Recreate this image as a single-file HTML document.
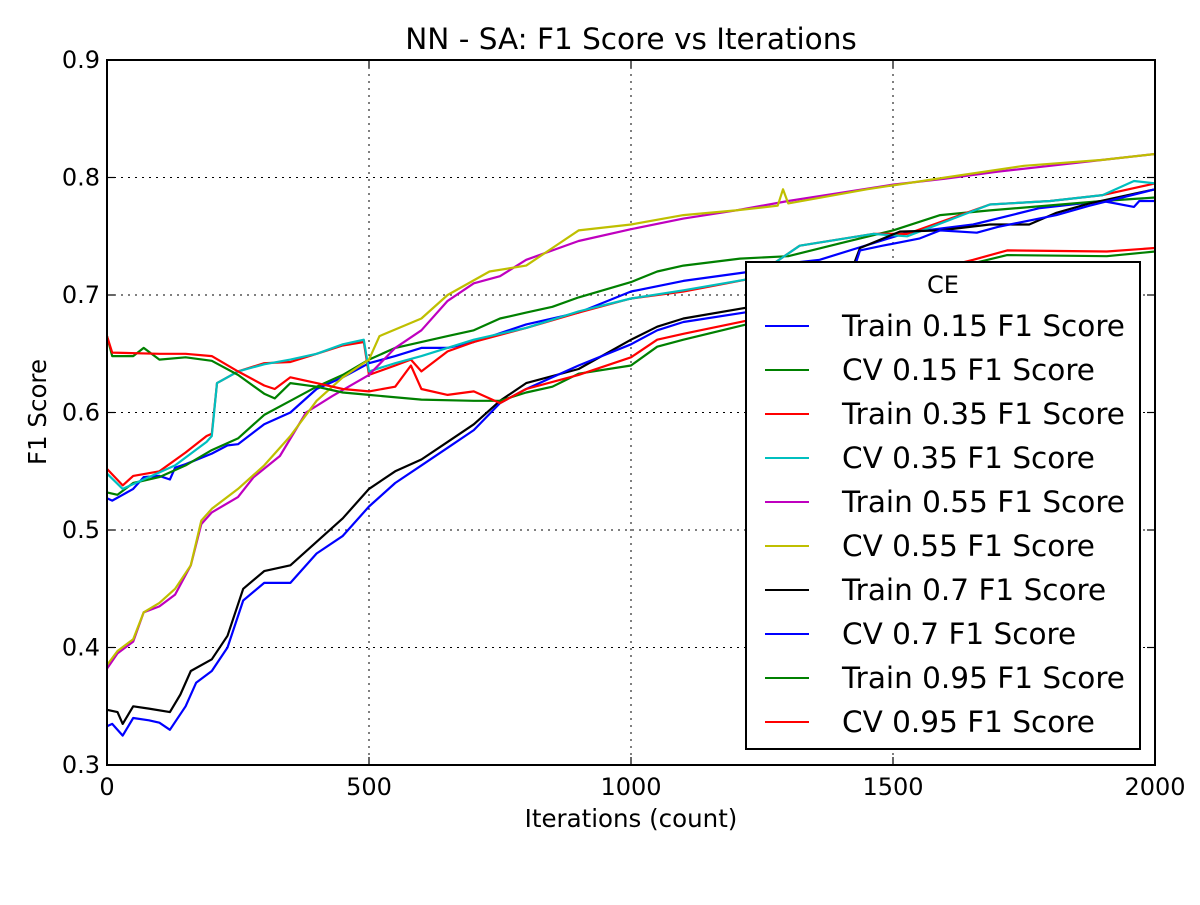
<!DOCTYPE html>
<html><head><meta charset="utf-8"><style>
body{margin:0;background:#fff;}
svg text{font-family:"DejaVu Sans","Liberation Sans",sans-serif;fill:#000;}
</style></head><body>
<svg id="chart" width="1200" height="900" xmlns="http://www.w3.org/2000/svg">
<rect width="1200" height="900" fill="#fff"/>
<text x="631" y="49" font-size="29.5" text-anchor="middle">NN - SA: F1 Score vs Iterations</text>
<text x="631" y="827" font-size="24.5" text-anchor="middle">Iterations (count)</text>
<text transform="translate(46,412) rotate(-90)" font-size="24.5" text-anchor="middle">F1 Score</text>
<g id="grid"></g><g id="series"></g><g id="axes"></g><g id="legend"></g>
</svg>
<script>
const xTicks=[0,500,1000,1500,2000];
const yTicks=[0.3,0.4,0.5,0.6,0.7,0.8,0.9];
const seriesNames=["Train 0.15 F1 Score","CV 0.15 F1 Score","Train 0.35 F1 Score","CV 0.35 F1 Score","Train 0.55 F1 Score","CV 0.55 F1 Score","Train 0.7 F1 Score","CV 0.7 F1 Score","Train 0.95 F1 Score","CV 0.95 F1 Score"];
const seriesColors=["#0000ff","#008000","#ff0000","#00bfbf","#bf00bf","#bfbf00","#000000","#0000ff","#008000","#ff0000"];
const xTrain015=[0,10,30,50,70,100,120,130,150,200,230,250,300,350,400,450,500,550,600,650,700,800,900,1000,1100,1230,1300,1360,1527,1653,1780,1900,1960,1970,2000];
const yTrain015=[0.527,0.525,0.53,0.535,0.545,0.546,0.543,0.553,0.556,0.565,0.572,0.573,0.59,0.6,0.62,0.63,0.642,0.648,0.655,0.655,0.66,0.675,0.685,0.703,0.712,0.72,0.727,0.73,0.753,0.76,0.774,0.78,0.775,0.78,0.78];
const xCV015=[0,20,50,100,150,200,250,300,350,400,450,500,550,650,700,750,800,850,900,1000,1050,1100,1208,1300,1399,1500,1590,1685,1900,2000];
const yCV015=[0.532,0.53,0.54,0.545,0.555,0.568,0.578,0.598,0.61,0.622,0.632,0.645,0.655,0.665,0.67,0.68,0.685,0.69,0.698,0.711,0.72,0.725,0.731,0.733,0.744,0.755,0.768,0.772,0.78,0.783];
const xTrain035=[0,30,50,100,150,190,200,210,250,300,350,400,450,490,500,550,580,600,650,700,800,900,1000,1100,1230,1322,1462,1527,1685,1800,1900,2000];
const yTrain035=[0.552,0.538,0.546,0.55,0.566,0.58,0.582,0.625,0.635,0.642,0.643,0.65,0.657,0.66,0.632,0.64,0.645,0.635,0.652,0.66,0.672,0.685,0.697,0.703,0.714,0.742,0.752,0.752,0.777,0.78,0.785,0.795];
const xCV035=[0,30,80,130,190,200,210,250,300,350,400,450,490,500,550,600,700,800,900,1000,1100,1230,1322,1462,1527,1685,1800,1900,1960,2000];
const yCV035=[0.548,0.535,0.545,0.555,0.575,0.58,0.625,0.635,0.641,0.645,0.65,0.658,0.662,0.635,0.642,0.648,0.662,0.672,0.686,0.697,0.704,0.714,0.742,0.752,0.75,0.777,0.78,0.785,0.797,0.795];
const xTrain055=[0,20,50,70,100,130,160,180,200,250,280,330,380,430,500,550,600,650,700,750,800,900,1000,1100,1200,1300,1400,1500,1600,1700,1800,1900,2000];
const yTrain055=[0.382,0.395,0.405,0.43,0.435,0.445,0.47,0.505,0.515,0.528,0.545,0.563,0.6,0.614,0.632,0.655,0.67,0.695,0.71,0.716,0.73,0.746,0.756,0.765,0.772,0.78,0.787,0.794,0.799,0.805,0.81,0.815,0.82];
const xCV055=[0,20,50,70,100,130,160,180,200,250,300,350,400,450,500,520,600,650,730,800,850,900,1000,1100,1200,1280,1290,1300,1450,1600,1750,1900,2000];
const yCV055=[0.385,0.397,0.407,0.43,0.438,0.45,0.47,0.508,0.518,0.535,0.555,0.58,0.61,0.63,0.645,0.665,0.68,0.7,0.72,0.725,0.74,0.755,0.76,0.768,0.772,0.776,0.79,0.778,0.79,0.8,0.81,0.815,0.82];
const xTrain07=[0,20,30,50,80,120,140,160,200,230,260,300,350,400,450,500,550,600,650,700,750,800,900,1000,1050,1100,1230,1300,1420,1437,1513,1590,1685,1760,1812,1875,2000];
const yTrain07=[0.347,0.345,0.335,0.35,0.348,0.345,0.36,0.38,0.39,0.41,0.45,0.465,0.47,0.49,0.51,0.535,0.55,0.56,0.575,0.59,0.61,0.625,0.637,0.662,0.673,0.68,0.69,0.7,0.72,0.74,0.754,0.755,0.76,0.76,0.77,0.778,0.79];
const xCV07=[0,10,30,50,80,100,120,150,170,200,230,260,300,350,400,450,500,550,600,650,700,750,800,850,900,1000,1050,1100,1230,1300,1420,1437,1480,1550,1590,1660,1700,1812,1875,2000];
const yCV07=[0.333,0.335,0.325,0.34,0.338,0.336,0.33,0.35,0.37,0.38,0.4,0.44,0.455,0.455,0.48,0.495,0.52,0.54,0.555,0.57,0.585,0.608,0.62,0.63,0.64,0.658,0.67,0.677,0.686,0.695,0.715,0.738,0.742,0.748,0.755,0.753,0.758,0.768,0.776,0.79];
const xTrain095=[0,10,50,70,100,150,200,250,300,320,350,400,450,500,600,700,750,800,850,900,1000,1050,1100,1230,1300,1500,1653,1718,1908,2000];
const yTrain095=[0.665,0.648,0.648,0.655,0.645,0.647,0.644,0.632,0.616,0.612,0.625,0.622,0.617,0.615,0.611,0.61,0.61,0.617,0.622,0.633,0.64,0.656,0.662,0.676,0.685,0.71,0.727,0.734,0.733,0.737];
const xCV095=[0,10,100,150,200,250,300,320,350,400,450,500,550,580,600,650,700,750,800,900,1000,1050,1100,1230,1300,1500,1653,1718,1908,2000];
const yCV095=[0.665,0.651,0.65,0.65,0.648,0.635,0.623,0.62,0.63,0.625,0.62,0.618,0.622,0.64,0.62,0.615,0.618,0.608,0.62,0.632,0.647,0.662,0.667,0.679,0.688,0.713,0.73,0.738,0.737,0.74];
const seriesX=[xTrain015,xCV015,xTrain035,xCV035,xTrain055,xCV055,xTrain07,xCV07,xTrain095,xCV095];
const seriesY=[yTrain015,yCV015,yTrain035,yCV035,yTrain055,yCV055,yTrain07,yCV07,yTrain095,yCV095];

const L=107,R=1155,T=60,B=765;
function sx(v){return L+(v-0)/(2000-0)*(R-L);}
function sy(v){return B-(v-0.3)/(0.9-0.3)*(B-T);}
const NS="http://www.w3.org/2000/svg";
function mk(tag,parent){const e=document.createElementNS(NS,tag);parent.appendChild(e);return e;}
const grid=document.getElementById('grid'),axes=document.getElementById('axes'),ser=document.getElementById('series'),leg=document.getElementById('legend');
xTicks.forEach(t=>{
  const x=sx(t);
  if(t>0&&t<2000){const g=mk('line',grid);g.setAttribute('x1',x);g.setAttribute('x2',x);g.setAttribute('y1',T);g.setAttribute('y2',B);g.setAttribute('stroke','#000');g.setAttribute('stroke-dasharray','2,5');
  
  }
  [[B,B-8],[T,T+8]].forEach(p=>{const k=mk('line',axes);k.setAttribute('x1',x);k.setAttribute('x2',x);k.setAttribute('y1',p[0]);k.setAttribute('y2',p[1]);k.setAttribute('stroke','#000');k.setAttribute('stroke-width','1.2');
  
  });
  const tx=mk('text',axes);tx.setAttribute('x',x);tx.setAttribute('y',B+30);tx.setAttribute('font-size','24');tx.setAttribute('text-anchor','middle');tx.textContent=String(t);
  
  
});
yTicks.forEach(t=>{
  const y=sy(t);
  if(t>0.31&&t<0.89){const g=mk('line',grid);g.setAttribute('x1',L);g.setAttribute('x2',R);g.setAttribute('y1',y);g.setAttribute('y2',y);g.setAttribute('stroke','#000');g.setAttribute('stroke-dasharray','2,5');
  
  }
  [[L,L+8],[R,R-8]].forEach(p=>{const k=mk('line',axes);k.setAttribute('x1',p[0]);k.setAttribute('x2',p[1]);k.setAttribute('y1',y);k.setAttribute('y2',y);k.setAttribute('stroke','#000');k.setAttribute('stroke-width','1.2');
  
  });
  const tx=mk('text',axes);tx.setAttribute('x',L-7);tx.setAttribute('y',y+8);tx.setAttribute('font-size','24');tx.setAttribute('text-anchor','end');tx.textContent=t.toFixed(1);
  
  
});
const frame=mk('rect',axes);frame.setAttribute('x',L);frame.setAttribute('y',T);frame.setAttribute('width',R-L);frame.setAttribute('height',B-T);frame.setAttribute('fill','none');frame.setAttribute('stroke','#000');frame.setAttribute('stroke-width','2');



seriesX.forEach((xs,i)=>{
  const ys=seriesY[i];
  const p=mk('polyline',ser);
  p.setAttribute('points',xs.map((x,j)=>sx(x).toFixed(1)+','+sy(ys[j]).toFixed(1)).join(' '));
  p.setAttribute('fill','none');p.setAttribute('stroke',seriesColors[i]);p.setAttribute('stroke-width','2.2');p.setAttribute('stroke-linejoin','round');
  
  
});

const box=mk('rect',leg);box.setAttribute('x',746);box.setAttribute('y',262);box.setAttribute('width',394);box.setAttribute('height',487);box.setAttribute('fill','#fff');box.setAttribute('stroke','#000');box.setAttribute('stroke-width','2');


const lt=mk('text',leg);lt.setAttribute('x',943);lt.setAttribute('y',293);lt.setAttribute('font-size','24');lt.setAttribute('text-anchor','middle');lt.textContent='CE';


seriesNames.forEach((n,i)=>{
  const y=326+i*44;
  const ln=mk('line',leg);ln.setAttribute('x1',765);ln.setAttribute('x2',809);ln.setAttribute('y1',y);ln.setAttribute('y2',y);ln.setAttribute('stroke',seriesColors[i]);ln.setAttribute('stroke-width','2');
  
  
  const t=mk('text',leg);t.setAttribute('x',842);t.setAttribute('y',y+10);t.setAttribute('font-size','29.5');t.textContent=n;
  
  
});
</script>
</body></html>
